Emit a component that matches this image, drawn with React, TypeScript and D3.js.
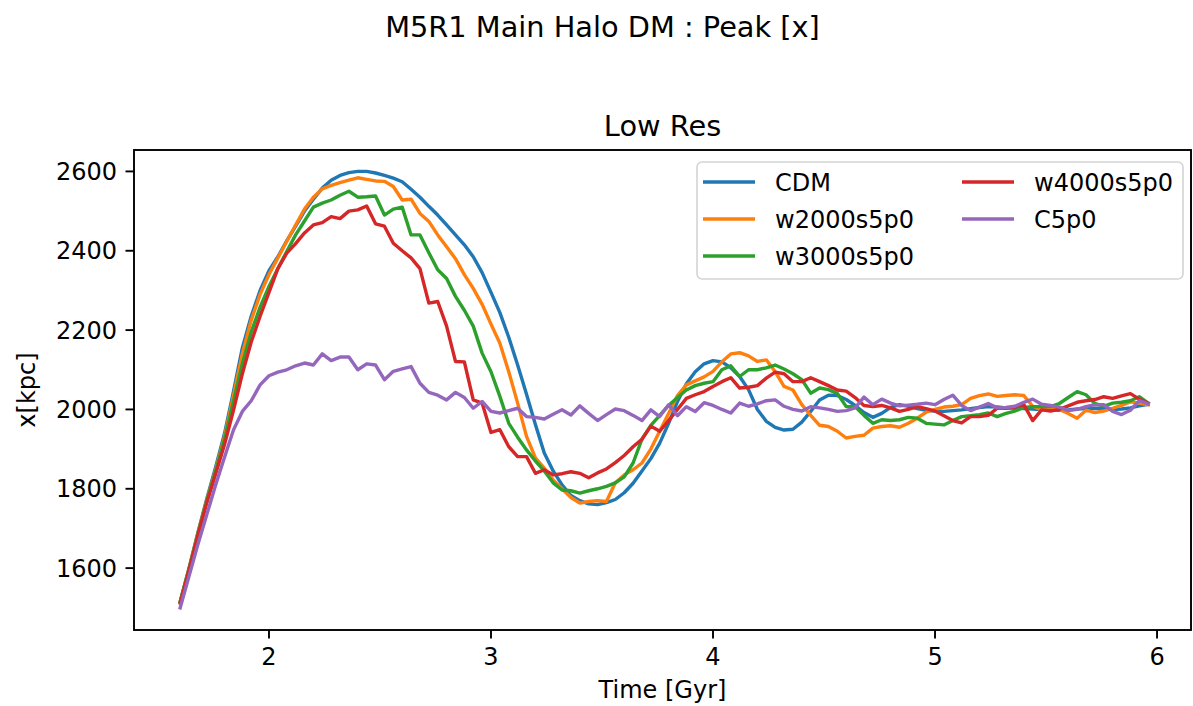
import React from "react";
import * as d3 from "d3";

const times = [
  1.60,1.64,1.68,1.72,1.76,1.80,1.84,1.88,1.92,1.96,
  2.00,2.04,2.08,2.12,2.16,2.20,2.24,2.28,2.32,2.36,
  2.40,2.44,2.48,2.52,2.56,2.60,2.64,2.68,2.72,2.76,
  2.80,2.84,2.88,2.92,2.96,3.00,3.04,3.08,3.12,3.16,
  3.20,3.24,3.28,3.32,3.36,3.40,3.44,3.48,3.52,3.56,
  3.60,3.64,3.68,3.72,3.76,3.80,3.84,3.88,3.92,3.96,
  4.00,4.04,4.08,4.12,4.16,4.20,4.24,4.28,4.32,4.36,
  4.40,4.44,4.48,4.52,4.56,4.60,4.64,4.68,4.72,4.76,
  4.80,4.84,4.88,4.92,4.96,5.00,5.04,5.08,5.12,5.16,
  5.20,5.24,5.28,5.32,5.36,5.40,5.44,5.48,5.52,5.56,
  5.60,5.64,5.68,5.72,5.76,5.80,5.84,5.88,5.92,5.96,
];

const cdm = [
  1515,1600,1690,1775,1855,1940,2045,2155,2235,2300,
  2350,2385,2425,2462,2500,2530,2558,2578,2590,2597,
  2600,2600,2596,2590,2583,2574,2555,2535,2512,2490,
  2465,2440,2415,2385,2345,2295,2244,2182,2112,2038,
  1962,1890,1845,1810,1783,1770,1762,1760,1765,1773,
  1790,1814,1845,1876,1915,1965,2020,2065,2095,2115,
  2123,2120,2105,2083,2050,2000,1970,1955,1948,1950,
  1968,1995,2024,2036,2035,2025,2010,1992,1980,1990,
  2005,2012,2008,2002,1998,1996,1995,1997,1999,2002,
  2005,2007,2006,2004,2003,2002,2001,2000,1999,1998,
  1999,2001,2002,2003,2002,2000,2001,2004,2009,2013,
];

const w2000 = [
  1515,1600,1688,1772,1848,1932,2035,2140,2225,2290,
  2340,2382,2424,2465,2505,2535,2556,2565,2572,2578,
  2584,2580,2576,2575,2562,2528,2530,2494,2474,2440,
  2410,2380,2340,2305,2265,2215,2167,2095,2016,1932,
  1878,1852,1822,1800,1778,1764,1768,1770,1768,1815,
  1835,1848,1865,1900,1945,1990,2035,2062,2072,2082,
  2096,2120,2140,2143,2135,2121,2125,2095,2058,2049,
  2012,1985,1960,1957,1945,1928,1932,1935,1953,1957,
  1959,1955,1965,1978,1993,2000,2006,2008,2012,2028,
  2035,2039,2033,2035,2037,2035,2008,1999,2006,2000,
  1990,1978,1998,1992,1996,2003,2010,2019,2016,2012,
];

const w3000 = [
  1515,1598,1686,1770,1845,1925,2020,2115,2195,2258,
  2310,2355,2398,2440,2475,2510,2520,2528,2540,2550,
  2535,2536,2538,2490,2505,2510,2440,2440,2395,2352,
  2330,2285,2250,2210,2142,2095,2033,1965,1930,1898,
  1870,1845,1815,1797,1795,1789,1795,1800,1806,1815,
  1830,1865,1925,1960,1985,2010,2030,2049,2060,2066,
  2070,2100,2110,2083,2100,2100,2105,2112,2102,2090,
  2075,2041,2054,2050,2040,2007,2007,1985,1965,1974,
  1972,1974,1980,1978,1965,1963,1961,1972,1982,1984,
  1987,1991,1982,1990,1996,2005,2007,2007,2007,2015,
  2030,2045,2037,2015,2008,2016,2018,2022,2032,2016,
];

const w4000 = [
  1512,1595,1683,1765,1838,1912,1998,2090,2170,2235,
  2295,2355,2394,2418,2445,2465,2471,2486,2481,2500,
  2503,2513,2468,2462,2419,2400,2382,2355,2268,2272,
  2210,2121,2120,2024,2016,1942,1949,1906,1881,1881,
  1839,1848,1835,1838,1843,1839,1828,1840,1850,1866,
  1884,1906,1925,1958,1945,1972,2000,2028,2037,2045,
  2058,2070,2080,2054,2056,2060,2079,2094,2090,2070,
  2070,2080,2070,2060,2049,2046,2030,2010,2007,2010,
  2004,1995,2000,2007,2002,1996,1984,1972,1966,1982,
  1982,1985,2003,2003,2006,2012,1972,1999,1996,2000,
  2009,2018,2022,2025,2032,2028,2034,2040,2026,2016,
];

const c5p0 = [
  1500,1580,1660,1735,1810,1880,1948,1995,2022,2062,
  2085,2094,2100,2110,2117,2112,2140,2123,2132,2132,
  2100,2115,2112,2075,2096,2102,2108,2066,2043,2036,
  2024,2043,2030,2003,2020,1995,1991,1997,2003,1982,
  1980,1976,1988,1999,1986,2009,1990,1972,1987,2001,
  1997,1985,1972,1999,1982,2012,1984,2007,1995,2017,
  2010,2000,1991,2016,2008,2014,2022,2024,2008,2000,
  1996,2007,2004,2000,1995,1997,2004,2031,2012,2026,
  2016,2009,2011,2013,2016,2012,2025,2036,2010,1997,
  2006,2015,2004,2005,2008,2018,2026,2013,2010,2006,
  1997,2000,2007,2012,2012,1995,1987,1998,2022,2014,
];

const seriesNames = ["CDM", "w2000s5p0", "w3000s5p0", "w4000s5p0", "C5p0"];
const seriesValues = [cdm, w2000, w3000, w4000, c5p0];
const colors = ["#1f77b4", "#ff7f0e", "#2ca02c", "#d62728", "#9467bd"];
const xTicks = [2, 3, 4, 5, 6];
const yTicks = [1600, 1800, 2000, 2200, 2400, 2600];

export default function App() {
  const W = 1193, H = 706;
  const L = 134, R = 1191, T = 150, B = 630;
  const x = d3.scaleLinear().domain([1.392, 6.153]).range([L, R]);
  const y = d3.scaleLinear().domain([1444, 2654]).range([B, T]);
  const line = d3
    .line<number>()
    .x((_, i) => x(times[i]))
    .y((d) => y(d));
  const font = "DejaVu Sans, sans-serif";
  const tickLen = 8.5;

  const legendRows = [
    { col: 0, row: 0, s: 0 },
    { col: 0, row: 1, s: 1 },
    { col: 0, row: 2, s: 2 },
    { col: 1, row: 0, s: 3 },
    { col: 1, row: 1, s: 4 },
  ];
  const colHandle = [703, 962];
  const colText = [775, 1034];
  const rowY = [182, 219, 256];

  return (
    <svg
      width={W}
      height={H}
      style={{ position: "absolute", left: 0, top: 0, background: "#fff" }}
      fontFamily={font}
    >
      <rect x={0} y={0} width={W} height={H} fill="#fff" />
      <text x={602.5} y={37} fontSize={28.8} textAnchor="middle" fill="#000">
        M5R1 Main Halo DM : Peak [x]
      </text>
      <text x={(L + R) / 2} y={136} fontSize={28.8} textAnchor="middle" fill="#000">
        Low Res
      </text>

      <defs>
        <clipPath id="plotclip">
          <rect x={L} y={T} width={R - L} height={B - T} />
        </clipPath>
      </defs>

      <g clipPath="url(#plotclip)">
        {seriesValues.map((vals, i) => (
          <path
            key={seriesNames[i]}
            d={line(vals) || ""}
            fill="none"
            stroke={colors[i]}
            strokeWidth={3.4}
            strokeLinejoin="round"
            strokeLinecap="square"
          />
        ))}
      </g>

      {/* axes frame */}
      <rect x={L} y={T} width={R - L} height={B - T} fill="none" stroke="#000" strokeWidth={1.9} />

      {/* x ticks */}
      {xTicks.map((t) => (
        <g key={"x" + t}>
          <line x1={x(t)} x2={x(t)} y1={B} y2={B + tickLen} stroke="#000" strokeWidth={1.9} />
          <text x={x(t)} y={B + 35} fontSize={24} textAnchor="middle" fill="#000">
            {t}
          </text>
        </g>
      ))}
      {/* y ticks */}
      {yTicks.map((v) => (
        <g key={"y" + v}>
          <line x1={L - tickLen} x2={L} y1={y(v)} y2={y(v)} stroke="#000" strokeWidth={1.9} />
          <text x={L - 17} y={y(v) + 8.7} fontSize={24} textAnchor="end" fill="#000">
            {v}
          </text>
        </g>
      ))}

      <text x={(L + R) / 2} y={698} fontSize={24} textAnchor="middle" fill="#000">
        Time [Gyr]
      </text>
      <text
        x={0}
        y={0}
        fontSize={24}
        textAnchor="middle"
        fill="#000"
        transform={`translate(35, ${(T + B) / 2}) rotate(-90)`}
      >
        x[kpc]
      </text>

      {/* legend */}
      <rect
        x={697}
        y={162}
        width={486}
        height={117}
        rx={5}
        ry={5}
        fill="#fff"
        fillOpacity={0.8}
        stroke="#d4d4d4"
        strokeWidth={1.6}
      />
      {legendRows.map((r) => (
        <g key={"leg" + r.s}>
          <line
            x1={colHandle[r.col]}
            x2={colHandle[r.col] + 52}
            y1={rowY[r.row]}
            y2={rowY[r.row]}
            stroke={colors[r.s]}
            strokeWidth={3.4}
          />
          <text x={colText[r.col]} y={rowY[r.row] + 8.7} fontSize={24} fill="#000">
            {seriesNames[r.s]}
          </text>
        </g>
      ))}
    </svg>
  );
}
